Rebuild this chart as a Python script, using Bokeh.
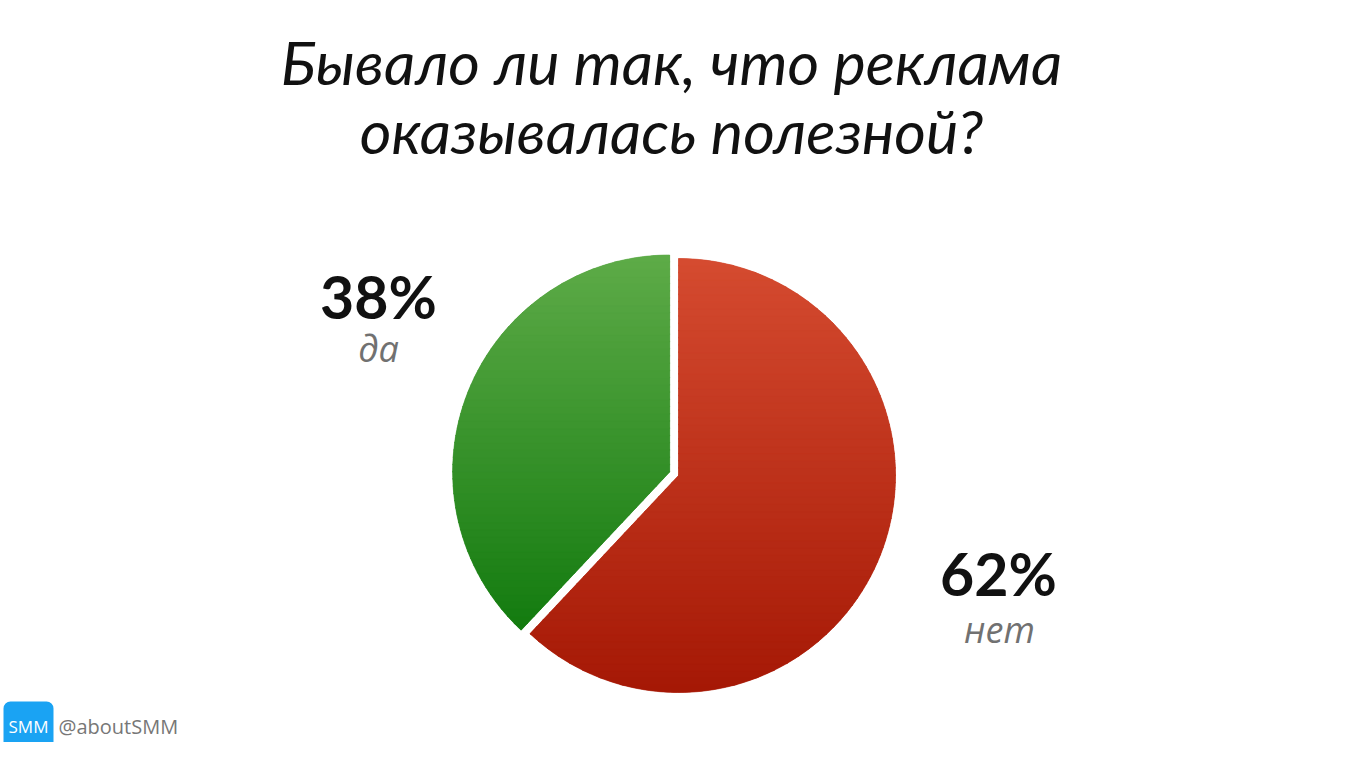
import numpy as np
from bokeh.plotting import figure
from bokeh.models import Range1d, BoxAnnotation
from bokeh.core.properties import value
from bokeh.embed import file_html
from bokeh.resources import INLINE

# ---- data ----
title_lines = ["Бывало ли так, что реклама", "оказывалась полезной?"]
categories = ["да", "нет"]
shares = [38, 62]
top_colors = ["#5eab48", "#d54b30"]
bottom_colors = ["#077306", "#a51805"]
handle = "@aboutSMM"
logo_text = "SMM"

W, H = 1331, 742
p = figure(width=W, height=H, output_backend="svg", toolbar_location=None,
           x_range=Range1d(0, W), y_range=Range1d(0, H), min_border=0)
p.axis.visible = False
p.grid.visible = False
p.outline_line_color = None
p.background_fill_color = "white"

# pie geometry
cx, cy, R = 678.0, 267.0, 217.0
explode = [9.5, 0.0]
fracs = np.array(shares, dtype=float) / sum(shares)
starts = np.pi / 2 + np.concatenate([[0], np.cumsum(fracs)[:-1]]) * 2 * np.pi
ends = starts + fracs * 2 * np.pi


def hex2rgb(h):
    h = h.lstrip("#")
    return np.array([int(h[i:i + 2], 16) for i in (0, 2, 4)], dtype=float)


def rgb2hex(c):
    return "#%02x%02x%02x" % tuple(int(round(v)) for v in c)


def clip_band(poly, y0, y1):
    def clip(pts, inside, inter):
        out = []
        n = len(pts)
        for i in range(n):
            a, b = pts[i - 1], pts[i]
            ia, ib = inside(a), inside(b)
            if ib:
                if not ia:
                    out.append(inter(a, b))
                out.append(b)
            elif ia:
                out.append(inter(a, b))
        return out

    def ix(a, b, yy):
        t = (yy - a[1]) / (b[1] - a[1])
        return (a[0] + t * (b[0] - a[0]), yy)

    pts = clip(poly, lambda q: q[1] >= y0, lambda a, b: ix(a, b, y0))
    if not pts:
        return []
    pts = clip(pts, lambda q: q[1] <= y1, lambda a, b: ix(a, b, y1))
    return pts


xs_all, ys_all, cols_all = [], [], []
wx, wy = [], []
for i in range(len(shares)):
    mid = (starts[i] + ends[i]) / 2
    ox = cx + explode[i] * np.cos(mid)
    oy = cy + explode[i] * np.sin(mid)
    wx.append(ox)
    wy.append(oy)
    th = np.linspace(starts[i], ends[i], 240)
    poly = [(ox, oy)] + [(ox + R * np.cos(t), oy + R * np.sin(t)) for t in th]
    ctop, cbot = hex2rgb(top_colors[i]), hex2rgb(bottom_colors[i])
    nb = 60
    edges = np.linspace(oy - R, oy + R, nb + 1)
    for b in range(nb):
        y0, y1 = edges[b], edges[b + 1] + 0.8
        seg = clip_band(poly, y0, y1)
        if len(seg) < 3:
            continue
        t = (b + 0.5) / nb
        col = cbot + (ctop - cbot) * t
        xs_all.append([q[0] for q in seg])
        ys_all.append([q[1] for q in seg])
        cols_all.append(rgb2hex(col))

mid_cols = [rgb2hex((hex2rgb(a) + hex2rgb(b)) / 2) for a, b in zip(top_colors, bottom_colors)]
p.wedge(x=wx, y=wy, radius=R, start_angle=list(starts), end_angle=list(ends),
        fill_color=mid_cols, line_color=None)
p.patches(xs=xs_all, ys=ys_all, fill_color=cols_all, line_color=cols_all, line_width=0.6)

# title
p.text(x=[671, 671], y=[681, 612], text=title_lines, text_font=value("Lato"),
       text_font_style="italic", text_font_size="61px", text_color="#111111",
       text_align="center", text_baseline="alphabetic")

# percentage labels
pct = [f"{s}%" for s in shares]
p.text(x=[378, 998], y=[446, 169], text=pct, text_font=value("Lato"),
       text_font_style="bold", text_font_size="59px", text_color="#111111",
       text_align="center", text_baseline="alphabetic")
p.text(x=[378, 999], y=[394, 113], text=categories, text_font=value("Open Sans"),
       text_font_style="italic", text_font_size="36px", text_color="#717171",
       text_align="center", text_baseline="alphabetic")

# logo
p.add_layout(BoxAnnotation(left=3, right=53, bottom=-14, top=41, fill_color="#1aa3f3",
                           fill_alpha=1.0, line_color=None, border_radius=7,
                           level="underlay"))
p.text(x=[28], y=[16], text=[logo_text], text_font=value("Open Sans"),
       text_font_size="17px", text_color="white", text_align="center",
       text_baseline="middle")
p.text(x=[58], y=[16], text=[handle], text_font=value("Open Sans"),
       text_font_size="20px", text_color="#777777", text_align="left",
       text_baseline="middle")

open("out.html", "w").write(file_html(p, INLINE))
